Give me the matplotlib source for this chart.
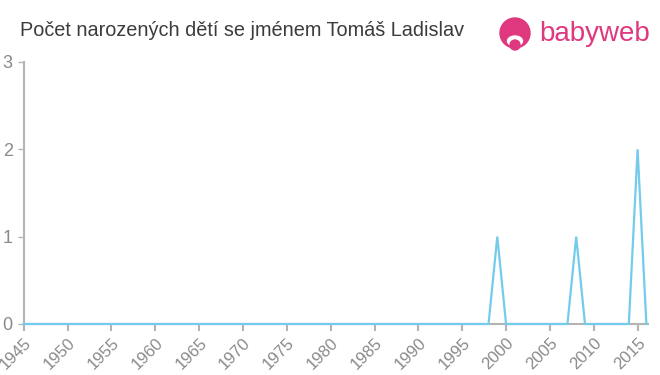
import matplotlib.pyplot as plt
from matplotlib.patches import Circle, Ellipse

plt.rcParams['font.family'] = ['Liberation Sans', 'DejaVu Sans']

# Data
years = list(range(1945, 2017))
counts = [0, 0, 0, 0, 0, 0, 0, 0, 0, 0,   # 1945-1954
          0, 0, 0, 0, 0, 0, 0, 0, 0, 0,   # 1955-1964
          0, 0, 0, 0, 0, 0, 0, 0, 0, 0,   # 1965-1974
          0, 0, 0, 0, 0, 0, 0, 0, 0, 0,   # 1975-1984
          0, 0, 0, 0, 0, 0, 0, 0, 0, 0,   # 1985-1994
          0, 0, 0, 0, 1, 0, 0, 0, 0, 0,   # 1995-2004
          0, 0, 0, 1, 0, 0, 0, 0, 0, 0,   # 2005-2014
          2, 0]                           # 2015-2016
xticks = list(range(1945, 2016, 5))
yticks = [0, 1, 2, 3]

grey = '#b4b4b4'
text_grey = '#8a8a8a'
pink = '#e0387f'

fig = plt.figure(figsize=(6.6, 3.75), dpi=100)
ax = fig.add_axes([0.036, 0.136, 0.946, 0.699])

ax.plot(years, counts, color='#74cbec', linewidth=1.6, solid_joinstyle='miter',
        zorder=3, clip_on=False)

ax.set_xlim(1945, 2016.2)
ax.set_ylim(0, 3)
ax.set_xticks(xticks)
ax.set_xticklabels([str(y) for y in xticks], rotation=45, ha='right',
                   rotation_mode='anchor', fontsize=12, color=text_grey)
ax.set_yticks(yticks)
ax.set_yticklabels([str(y) for y in yticks], fontsize=13, color=text_grey)
ax.tick_params(axis='x', length=5, width=1.5, color=grey, pad=3)
ax.tick_params(axis='y', length=4, width=1, color=grey, pad=4)

for side in ['top', 'right']:
    ax.spines[side].set_visible(False)
for side in ['left', 'bottom']:
    ax.spines[side].set_color(grey)
    ax.spines[side].set_linewidth(1.5)

# Title
fig.text(20 / 660, 1 - 31 / 375, 'Počet narozených dětí se jménem Tomáš Ladislav',
         fontsize=14.3, color='#3c3c3c', va='center', ha='left')

# Logo
lax = fig.add_axes([0, 0, 1, 1], facecolor='none')
lax.set_xlim(0, 660)
lax.set_ylim(375, 0)
lax.axis('off')
lax.add_patch(Circle((515, 33), 15, color=pink))
lax.add_patch(Ellipse((515, 41), 15, 10, color='white'))
lax.add_patch(Circle((515, 45), 5, color=pink))
lax.text(539, 34, 'babyweb', fontsize=20, color=pink, va='center', ha='left')

fig.savefig('out.png', dpi=100)
